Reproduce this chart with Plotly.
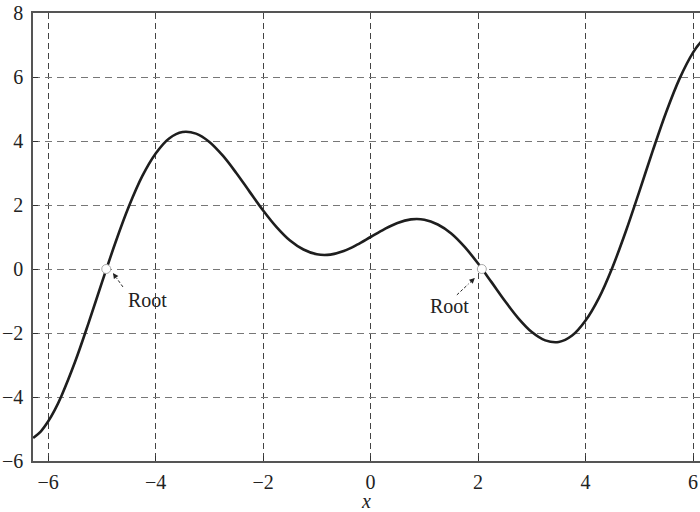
import plotly.graph_objects as go

# Curve samples
x_vals = [-6.28, -6.14, -6.0, -5.88, -5.75, -5.5, -5.25, -5.0, -4.75, -4.5, -4.25, -4.0, -3.75,
          -3.5, -3.25, -3.0, -2.75, -2.5, -2.25, -2.0, -1.75, -1.5, -1.25, -1.0, -0.75,
          -0.5, -0.25, 0.0, 0.25, 0.5, 0.75, 1.0, 1.25, 1.5, 1.75, 2.0, 2.25, 2.5, 2.75,
          3.0, 3.25, 3.5, 3.75, 4.0, 4.25, 4.5, 4.75, 5.0, 5.25, 5.5, 5.75, 6.0, 6.14, 6.28]
y_vals = [-5.28, -5.08, -4.76, -4.41, -3.95, -2.90, -1.69, -0.42, 0.82, 1.95, 2.90, 3.61, 4.08,
          4.28, 4.23, 3.97, 3.54, 3.00, 2.41, 1.83, 1.31, 0.89, 0.61, 0.46, 0.45,
          0.56, 0.76, 1.00, 1.24, 1.44, 1.55, 1.54, 1.39, 1.11, 0.69, 0.17, -0.41, -1.00, -1.54,
          -1.97, -2.23, -2.28, -2.08, -1.61, -0.90, 0.05, 1.18, 2.42, 3.69, 4.90, 5.95, 6.76, 7.08, 7.28]

root_x = [-4.92, 2.07]
root_y = [0.0, 0.0]
root_labels = ["Root", "Root"]
label_x = [-4.16, 1.475]
label_y = [-0.97, -1.15]
arrow_tail_x = [-4.61, 1.605]
arrow_tail_y = [-0.56, -0.81]
arrow_tip_x = [-4.795, 1.94]
arrow_tip_y = [-0.125, -0.28]

x_ticks = [-6, -4, -2, 0, 2, 4, 6]
y_ticks = [-6, -4, -2, 0, 2, 4, 6, 8]

FONT = "Liberation Serif"

def lab(v):
    return "\u2212" + str(-v) if v < 0 else str(v)

fig = go.Figure()
fig.add_trace(go.Scatter(x=x_vals, y=y_vals, mode="lines", line=dict(color="#1e1e1e", width=2.6, shape="spline"),
                         hoverinfo="skip", showlegend=False))
fig.add_trace(go.Scatter(x=root_x, y=root_y, mode="markers",
                         marker=dict(symbol="circle", size=9, color="white", line=dict(color="#aaaaaa", width=1)),
                         showlegend=False))

for i in range(len(root_labels)):
    fig.add_annotation(x=label_x[i], y=label_y[i], text=root_labels[i], showarrow=False,
                       font=dict(family=FONT, size=20, color="#222"))
    mx = arrow_tip_x[i] - 0.35 * (arrow_tip_x[i] - arrow_tail_x[i])
    my = arrow_tip_y[i] - 0.35 * (arrow_tip_y[i] - arrow_tail_y[i])
    fig.add_shape(type="line", x0=arrow_tail_x[i], y0=arrow_tail_y[i], x1=mx, y1=my,
                  line=dict(color="#222", width=1, dash="3px,2px"))
    fig.add_annotation(x=arrow_tip_x[i], y=arrow_tip_y[i], ax=mx, ay=my, axref="x", ayref="y",
                       xref="x", yref="y", text="", showarrow=True, arrowhead=2, arrowsize=1.1,
                       arrowwidth=1, arrowcolor="#222")

fig.update_layout(
    width=700, height=512,
    margin=dict(l=33, r=0, t=13, b=51),
    paper_bgcolor="white", plot_bgcolor="white",
    font=dict(family=FONT, size=20, color="#222"),
    showlegend=False,
)
fig.update_xaxes(range=[-6.2832, 6.13], tickvals=x_ticks, ticktext=[lab(v) for v in x_ticks],
                 showgrid=True, gridcolor="#444", griddash="6px,4px", gridwidth=1,
                 showline=True, linecolor="#555", linewidth=1.5, mirror=True, zeroline=False,
                 ticks="inside", ticklen=5, tickcolor="#333", ticklabelstandoff=2,
                 title=dict(text="<i>x</i>", font=dict(family=FONT, size=20), standoff=0))
fig.update_yaxes(range=[-6, 8], tickvals=y_ticks, ticktext=[lab(v) for v in y_ticks],
                 showgrid=True, gridcolor="#777", griddash="7px,5px", gridwidth=1,
                 showline=True, linecolor="#555", linewidth=1.5, mirror=False, zeroline=False,
                 ticks="inside", ticklen=5, tickcolor="#333", ticklabelstandoff=4)

fig.write_html("out.html")
